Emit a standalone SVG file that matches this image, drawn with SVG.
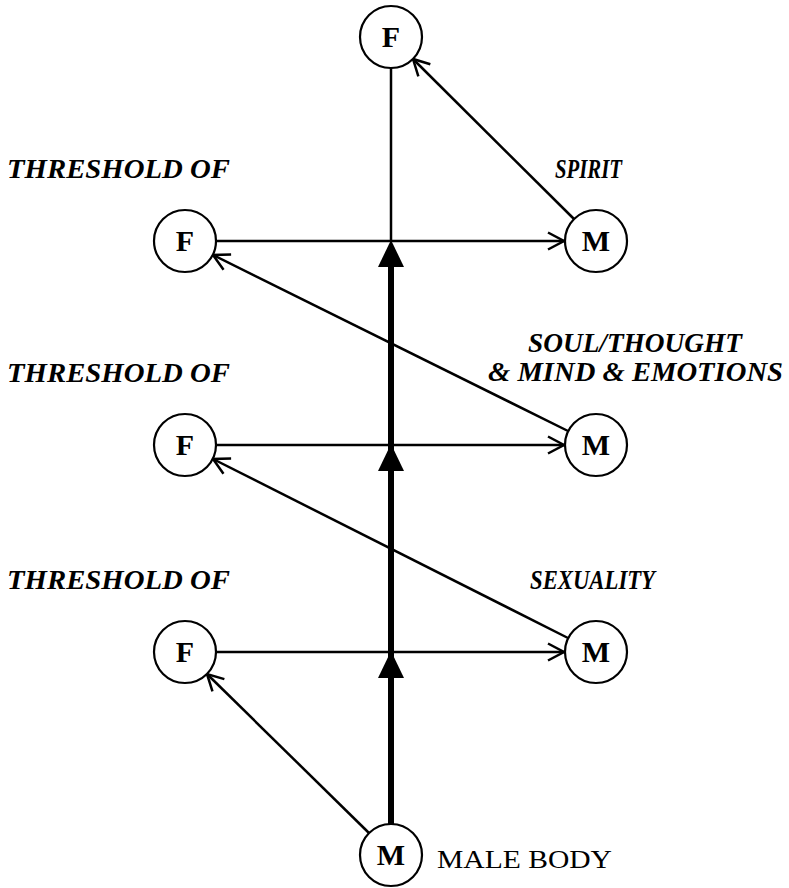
<svg xmlns="http://www.w3.org/2000/svg" width="789" height="888" viewBox="0 0 789 888">
<style>
.node circle{fill:#fff;stroke:#000;stroke-width:2.2}
.node text{font-family:"Liberation Serif",serif;font-weight:bold;font-size:30px;text-anchor:middle}
.lbl{font-family:"Liberation Serif",serif;font-weight:bold;font-style:italic;font-size:27px}
.plain{font-family:"Liberation Serif",serif;font-size:26px}
.thin{stroke:#000;stroke-width:2.5;fill:none}
.thick{stroke:#000;stroke-width:6;fill:none}
.head{fill:#000}
</style>
<defs>
<marker id="open" markerUnits="userSpaceOnUse" markerWidth="22" markerHeight="22" viewBox="-18 -11 20 22" refX="0" refY="0" orient="auto">
<path d="M-16,-8.5 L0,0 L-16,8.5" fill="none" stroke="#000" stroke-width="2.5"/>
</marker>
</defs>
<g id="connectors">
<line class="thin" x1="391" y1="241" x2="391" y2="68"/>
<line class="thick" x1="391" y1="824" x2="391" y2="260"/>
<polygon class="head" points="391,240 378,267 404,267"/>
<polygon class="head" points="391,444 378,471 404,471"/>
<polygon class="head" points="391,651 378,678 404,678"/>
<line class="thin" x1="216" y1="241" x2="564" y2="241" marker-end="url(#open)"/>
<line class="thin" x1="216" y1="445" x2="564" y2="445" marker-end="url(#open)"/>
<line class="thin" x1="216" y1="652" x2="564" y2="652" marker-end="url(#open)"/>
<line class="thin" x1="574" y1="219" x2="413" y2="59" marker-end="url(#open)"/>
<line class="thin" x1="568" y1="431" x2="213" y2="255" marker-end="url(#open)"/>
<line class="thin" x1="568" y1="638" x2="213" y2="459" marker-end="url(#open)"/>
<line class="thin" x1="369" y1="833" x2="207" y2="674" marker-end="url(#open)"/>
</g>
<g id="nF0" class="node"><circle cx="391" cy="37" r="31"/><text x="391" y="47">F</text></g>
<g id="nF1" class="node"><circle cx="185" cy="241" r="31"/><text x="185" y="251">F</text></g>
<g id="nM1" class="node"><circle cx="596" cy="241" r="31"/><text x="596" y="251">M</text></g>
<g id="nF2" class="node"><circle cx="185" cy="445" r="31"/><text x="185" y="455">F</text></g>
<g id="nM2" class="node"><circle cx="596" cy="445" r="31"/><text x="596" y="455">M</text></g>
<g id="nF3" class="node"><circle cx="185" cy="652" r="31"/><text x="185" y="662">F</text></g>
<g id="nM3" class="node"><circle cx="596" cy="652" r="31"/><text x="596" y="662">M</text></g>
<g id="nM0" class="node"><circle cx="391" cy="855" r="31"/><text x="391" y="865">M</text></g>
<g id="labels">
<text class="lbl" x="7" y="178" textLength="223" lengthAdjust="spacingAndGlyphs">THRESHOLD  OF</text>
<text class="lbl" x="7" y="382" textLength="223" lengthAdjust="spacingAndGlyphs">THRESHOLD  OF</text>
<text class="lbl" x="7" y="589" textLength="223" lengthAdjust="spacingAndGlyphs">THRESHOLD  OF</text>
<text class="lbl" x="555" y="178" textLength="67" lengthAdjust="spacingAndGlyphs">SPIRIT</text>
<text class="lbl" x="528" y="352" textLength="214" lengthAdjust="spacingAndGlyphs">SOUL/THOUGHT</text>
<text class="lbl" x="488" y="381" textLength="295" lengthAdjust="spacingAndGlyphs">&amp; MIND &amp; EMOTIONS</text>
<text class="lbl" x="530" y="589" textLength="125" lengthAdjust="spacingAndGlyphs">SEXUALITY</text>
<text class="plain" x="437" y="868" textLength="175" lengthAdjust="spacingAndGlyphs">MALE  BODY</text>
</g>
</svg>
